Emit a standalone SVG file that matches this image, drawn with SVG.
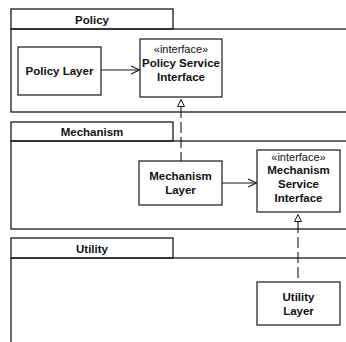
<svg xmlns="http://www.w3.org/2000/svg" width="346" height="342" viewBox="0 0 346 342">
<style>
.pkg{fill:none;stroke:#1a1a1a;stroke-width:1.3}
.box{fill:#fff;stroke:#1a1a1a;stroke-width:1.2}
.t{font-family:"Liberation Sans",Arial,sans-serif;font-size:11.5px;font-weight:bold;fill:#111;text-anchor:middle}
.s{font-family:"Liberation Sans",Arial,sans-serif;font-size:11px;fill:#111;text-anchor:middle}
.ln{fill:none;stroke:#1a1a1a;stroke-width:1.1}
.dash{fill:none;stroke:#1a1a1a;stroke-width:1.1;stroke-dasharray:11 4}
.tri{fill:#fff;stroke:#1a1a1a;stroke-width:1}
</style>
<rect width="346" height="342" fill="#fff"/>
<g id="policy-pkg">
<rect class="pkg" x="11" y="9" width="162" height="20"/>
<rect class="pkg" x="11" y="29" width="345" height="83"/>
<text class="t" x="92" y="24">Policy</text>
</g>
<g id="mechanism-pkg">
<rect class="pkg" x="11" y="122" width="162" height="19"/>
<rect class="pkg" x="11" y="141" width="345" height="88"/>
<text class="t" x="92" y="136">Mechanism</text>
</g>
<g id="utility-pkg">
<rect class="pkg" x="11" y="238" width="162" height="20"/>
<rect class="pkg" x="11" y="258" width="345" height="100"/>
<text class="t" x="92" y="253">Utility</text>
</g>
<g id="connectors">
<line class="ln" x1="101" y1="70" x2="139" y2="70"/>
<polyline class="ln" points="131,66 139.5,70 131,74"/>
<line class="dash" x1="181" y1="107" x2="181" y2="161"/>
<polygon class="tri" points="181,99.5 177.5,106.5 184.5,106.5"/>
<line class="ln" x1="222" y1="183" x2="256" y2="183"/>
<polyline class="ln" points="248,179 256.5,183 248,187"/>
<line class="dash" x1="298" y1="222" x2="298" y2="282"/>
<polygon class="tri" points="298,214.5 294.5,221.5 301.5,221.5"/>
</g>
<g id="policy-layer">
<rect class="box" x="18" y="47" width="83" height="48"/>
<text class="t" x="59.5" y="75">Policy Layer</text>
</g>
<g id="policy-service-interface">
<rect class="box" x="140" y="39" width="82" height="58"/>
<text class="s" x="181" y="53">«interface»</text>
<text class="t" x="181" y="67">Policy Service</text>
<text class="t" x="181" y="81">Interface</text>
</g>
<g id="mechanism-layer">
<rect class="box" x="139" y="161" width="83" height="44"/>
<text class="t" x="180.5" y="180">Mechanism</text>
<text class="t" x="180.5" y="194">Layer</text>
</g>
<g id="mechanism-service-interface">
<rect class="box" x="257" y="150" width="83" height="62"/>
<text class="s" x="298.5" y="161">«interface»</text>
<text class="t" x="298.5" y="174">Mechanism</text>
<text class="t" x="298.5" y="188">Service</text>
<text class="t" x="298.5" y="202">Interface</text>
</g>
<g id="utility-layer">
<rect class="box" x="257" y="282" width="83" height="43"/>
<text class="t" x="298.5" y="301">Utility</text>
<text class="t" x="298.5" y="315">Layer</text>
</g>
</svg>
